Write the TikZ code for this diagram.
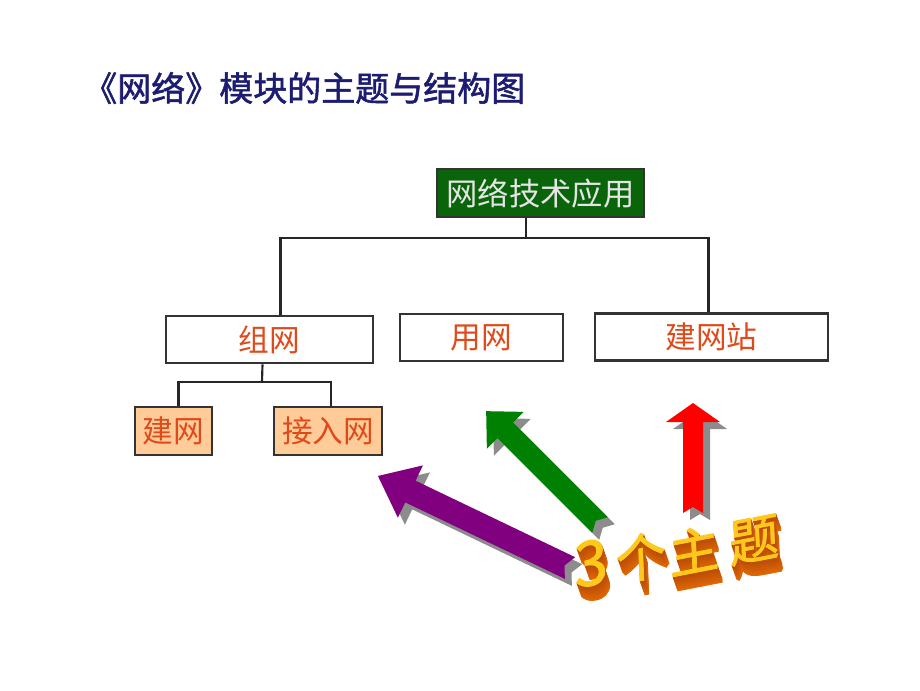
\documentclass[tikz,border=0pt]{standalone}
\usepackage{fontspec}
\newfontfamily\cjk{Noto Sans CJK SC}
\newfontfamily\cjkheavy[FakeBold=1.5]{Noto Sans CJK SC}
\usetikzlibrary{positioning,calc}

\definecolor{titleblue}{HTML}{1C1C72}
\definecolor{boxgreen}{HTML}{0A640A}
\definecolor{labelred}{HTML}{E04A1A}
\definecolor{peach}{HTML}{FFCC99}
\definecolor{shadowgray}{HTML}{8C8C8C}
\definecolor{arrowpurple}{HTML}{800080}
\definecolor{arrowgreen}{HTML}{008000}
\definecolor{arrowred}{HTML}{FF0000}
\definecolor{gold}{HTML}{FFC81A}
\definecolor{burnt}{HTML}{B84A08}

\newcommand{\px}{0.75pt}
% fat arrow: tail, angle, length, half shaft, half head, head length, colour
\newcommand{\fatarrow}[7]{%
  \begin{scope}[shift={(#1)},shift={(7,7)},rotate=#2]
    \fill[shadowgray] (0,-#4) -- ({#3-#6},-#4) -- ({#3-#6},-#5) -- (#3,0)
      -- ({#3-#6},#5) -- ({#3-#6},#4) -- (0,#4) -- (6,0) -- cycle;
  \end{scope}
  \begin{scope}[shift={(#1)},rotate=#2]
    \fill[#7] (0,-#4) -- ({#3-#6},-#4) -- ({#3-#6},-#5) -- (#3,0)
      -- ({#3-#6},#5) -- ({#3-#6},#4) -- (0,#4) -- (6,0) -- cycle;
  \end{scope}}

\tikzset{
  topbox/.style={draw=black!80,line width=2pt,fill=boxgreen,text=white!90!black,
    font=\cjk\fontsize{23.5}{24}\selectfont,inner sep=0pt,minimum height=48*\px},
  midbox/.style={draw=black!80,line width=2pt,fill=white,text=labelred,
    font=\cjk\fontsize{23}{24}\selectfont,inner sep=0pt,minimum height=47*\px},
  subbox/.style={midbox,fill=peach,minimum height=48*\px},
  tree/.style={line width=1.6pt,black!85},
  face/.style={font=\cjkheavy\fontsize{38}{38}\selectfont,inner sep=0pt,
    transform shape,rotate=11,xslant=0.15}
}

\begin{document}
\begin{tikzpicture}[x=0.75pt,y=-0.75pt]
    \useasboundingbox (0,0) rectangle (920,690);
    \fill[white] (0,0) rectangle (920,690);

    \node[anchor=west,text=titleblue,font=\cjkheavy\fontsize{25.5}{26}\selectfont,inner sep=0pt] (title) at (83,88) {《网络》模块的主题与结构图};

    % boxes
    \node[topbox,minimum width=207*\px] (top) at (540.5,193) {网络技术应用};
    \node[midbox,minimum width=207*\px] (zuwang) at (269.5,339.5) {组网};
    \node[midbox,minimum width=163*\px] (yongwang) at (481.5,337.5) {用网};
    \node[midbox,minimum width=233*\px] (jianwangzhan) at (711.5,337) {建网站};
    \node[subbox,minimum width=77*\px] (jianwang) at (173.5,431) {建网};
    \node[subbox,minimum width=108*\px] (jieru) at (328,431) {接入网};

    % tree lines
    \coordinate (bus) at (526,238);
    \coordinate (sub) at (262,382);
    \draw[tree] (top.south -| bus) -- (bus);
    \draw[tree] ($(zuwang.north)+(11,0)$) |- (bus) -| ($(jianwangzhan.north)+(-3,0)$);
    \draw[tree] ($(yongwang.north)+(12,0)$) -- ($(yongwang.north)+(12,0)$ |- bus);
    \draw[tree] ($(zuwang.south)+(-7,0)$) -- (sub);
    \draw[tree] ($(jianwang.north)+(5,0)$) |- (sub) -| ($(jieru.north)+(3,0)$);

    % three arrows
    \fatarrow{570,568}{154.4}{213}{12}{29}{36}{arrowpurple}
    \fatarrow{600,525}{135}{161}{11}{26}{27}{arrowgreen}
    \fatarrow{693,513}{90}{110}{10}{27}{19}{arrowred}

    % 3D label
    \foreach \ch/\fs/\cx/\cy [count=\i] in {3/46/591/563,个/38/641/557,主/38/694/550,题/38/754/540} {
        \foreach \k in {14,...,1}
            \node[face,text=burnt!\fpeval{100-4*\k}!orange,font=\cjkheavy\fontsize{\fs}{\fs}\selectfont] (depth\i-\k) at (\cx+0.35*\k,\cy+\k) {\ch};
        \node[face,text=gold,font=\cjkheavy\fontsize{\fs}{\fs}\selectfont] (label\i) at (\cx,\cy) {\ch};
    }
\end{tikzpicture}
\end{document}
